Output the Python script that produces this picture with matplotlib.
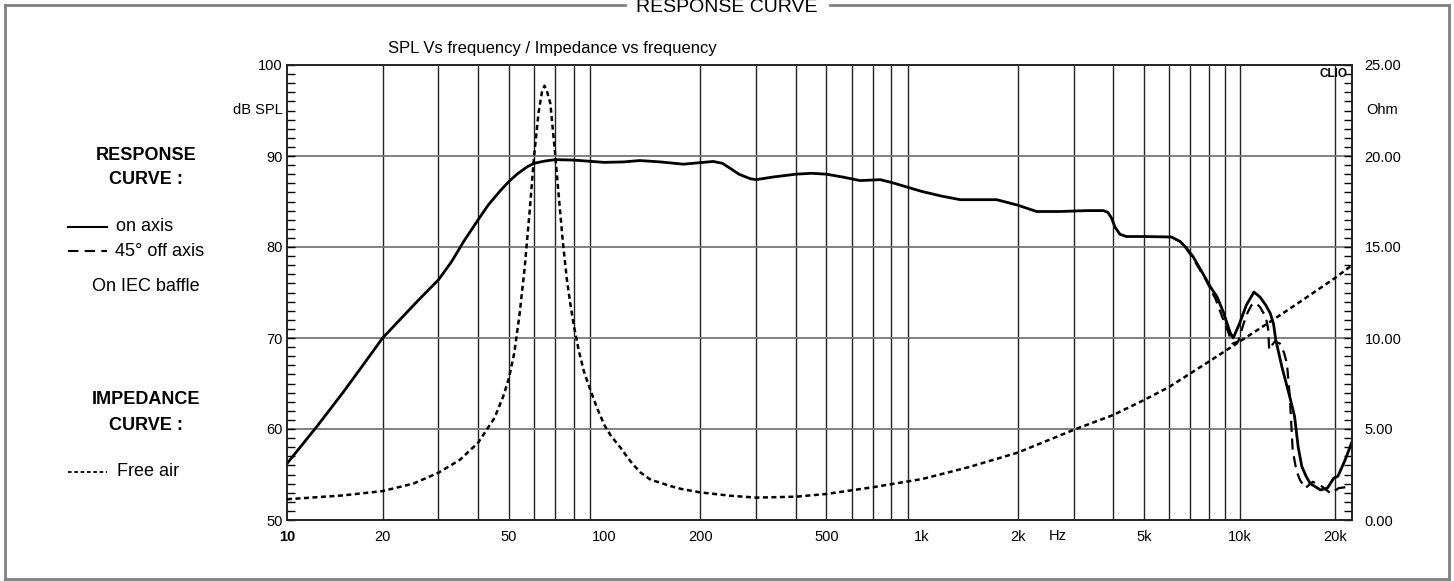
"""
SPL / impedance response chart (CLIO style)
"""
import matplotlib
matplotlib.use('Agg')
import matplotlib.pyplot as plt
from matplotlib.lines import Line2D
from matplotlib.ticker import FixedLocator, MultipleLocator, NullFormatter

plt.rcParams['font.family'] = ['Liberation Sans', 'DejaVu Sans']

# SPL on axis (Hz, dB)
spl_freq = [10, 12.5, 15, 17.5, 20, 26, 30, 33, 36, 40, 43, 47, 50, 53, 57, 60, 65, 70, 80,
            100, 115, 129, 150, 177, 200, 220, 235, 250, 265, 288, 300, 341, 400, 450, 500,
            560, 638, 738, 800, 894, 1000, 1150, 1319, 1718, 2000, 2296, 2722, 3300, 3724,
            3850, 3950, 4050, 4200, 4400, 5000, 6100, 6500, 6800, 7150, 7600, 8100, 8500,
            8900, 9340, 9550, 10000, 10500, 11100, 11600, 12100, 12500, 12800, 13000,
            13600, 14400, 14900, 15300, 15700, 16200, 16700, 18000, 18900, 19800, 20400,
            21500, 22600]
spl_on = [56.2, 60.4, 64.0, 67.2, 70.0, 74.2, 76.4, 78.4, 80.6, 83.0, 84.6, 86.2, 87.2,
          88.0, 88.8, 89.2, 89.45, 89.6, 89.55, 89.3, 89.35, 89.5, 89.35, 89.1, 89.27, 89.4,
          89.2, 88.6, 88.0, 87.5, 87.4, 87.7, 88.0, 88.1, 88.0, 87.7, 87.3, 87.4, 87.1,
          86.6, 86.1, 85.6, 85.2, 85.2, 84.6, 83.9, 83.9, 84.0, 84.0, 83.8, 83.2, 82.2,
          81.4, 81.15, 81.15, 81.1, 80.6, 79.9, 78.9, 77.3, 75.6, 74.5, 72.8, 70.6, 70.0,
          71.6, 73.6, 75.05, 74.5, 73.6, 72.7, 71.5, 69.8, 66.8, 63.5, 61.4, 58.0, 55.9,
          54.8, 54.0, 53.3, 53.5, 54.6, 54.8, 56.6, 58.6]

# SPL 45 deg off axis (same as on axis below ~6 kHz)
off_freq = [6100, 6500, 6800, 7150, 7800, 8400, 8800, 9200, 9500, 9900, 10300, 10600,
            10900, 11200, 11600, 12100, 12300, 12400, 12700, 12900, 13400, 13800, 14100,
            14400, 14700, 15100, 15500, 16100, 17000, 18000, 19400, 20500, 22600]
spl_off = [81.1, 80.6, 79.8, 78.7, 76.5, 74.3, 72.4, 70.7, 69.4, 69.6, 71.6, 72.8, 73.6,
           73.9, 73.4, 72.3, 71.0, 68.7, 69.3, 69.6, 69.4, 68.4, 67.2, 63.5, 57.7, 55.4,
           54.4, 53.5, 54.2, 53.8, 52.9, 53.5, 53.7]

# Impedance free air (Hz, Ohm)
imp_freq = [10, 15, 20, 25, 30, 35, 40, 45, 48, 50, 52, 54, 56, 58, 60, 62, 63.5, 64.7,
            66, 67.5, 70, 72, 74, 76, 78, 80, 83, 86, 90, 95, 100, 105, 112, 118, 123, 130,
            140, 150, 160, 175, 200, 250, 300, 400, 500, 700, 1000, 1400, 2000, 3000,
            4000, 5000, 6000, 8000, 10000, 12500, 15850, 20000, 22600]
impedance = [1.14, 1.35, 1.59, 2.0, 2.6, 3.3, 4.25, 5.6, 6.8, 7.8, 9.2, 11.3, 13.8, 16.8,
             20.0, 22.4, 23.5, 23.86, 23.5, 22.9, 20.0, 17.5, 15.2, 13.3, 11.9, 10.7,
             9.3, 8.2, 7.2, 6.1, 5.2, 4.6, 4.0, 3.45, 3.05, 2.6, 2.2, 2.05, 1.88, 1.7, 1.52,
             1.33, 1.23, 1.28, 1.43, 1.80, 2.25, 2.9, 3.7, 4.95, 5.77, 6.59, 7.31, 8.7,
             9.8, 10.9, 12.1, 13.3, 14.0]

x_labels = ['10', '20', '50', '100', '200', '500', '1k', '2k', '5k', '10k', '20k']
x_label_freqs = [10, 20, 50, 100, 200, 500, 1000, 2000, 5000, 10000, 20000]
grid_freqs = [m * d for d in (10, 100, 1000) for m in range(2, 10)] + [10000, 20000]

W, H = 1454, 581


def fx(px):
    return px / W


def fy(py):
    return 1 - py / H


fig = plt.figure(figsize=(W / 100, H / 100), dpi=100)
ax = fig.add_axes([fx(287), fy(520), (1352 - 287) / W, (520 - 65) / H])

# grid lines
for f in grid_freqs:
    ax.axvline(f, color='#222222', lw=1.0, zorder=1)
for v in (60, 70, 80, 90):
    ax.axhline(v, color='#777777', lw=1.3, zorder=1)

ax.plot(off_freq, spl_off, color='black', lw=1.6, ls=(0, (5, 3)), zorder=3)
ax.plot(spl_freq, spl_on, color='black', lw=2.0, zorder=4)

ax.set_xscale('log')
ax.set_xlim(10, 22600)
ax.set_ylim(50, 100)
ax.xaxis.set_major_locator(FixedLocator(x_label_freqs))
ax.xaxis.set_minor_locator(FixedLocator([]))
ax.xaxis.set_minor_formatter(NullFormatter())
ax.set_xticklabels(x_labels)
ax.get_xticklabels()[0].set_fontweight('bold')
ax.tick_params(axis='x', length=0, pad=7, labelsize=10.5)
ax.yaxis.set_major_locator(MultipleLocator(10))
ax.yaxis.set_minor_locator(MultipleLocator(1))
ax.tick_params(axis='y', which='both', direction='in', length=6, width=1.0,
               pad=3, labelsize=10.5, right=False)
for sp in ax.spines.values():
    sp.set_linewidth(1.2)
    sp.set_color('#222222')

ax2 = ax.twinx()
ax2.plot(imp_freq, impedance, color='black', lw=1.8, ls=(0, (2, 1.4)), zorder=5)
ax2.set_ylim(0, 25)
ax2.yaxis.set_major_locator(MultipleLocator(5))
ax2.yaxis.set_minor_locator(MultipleLocator(0.5))
ax2.set_yticklabels([f'{v:.2f}' for v in ax2.get_yticks()])
ax2.tick_params(axis='y', which='both', direction='in', length=6, width=1.0,
                pad=9, labelsize=10.5)
for sp in ax2.spines.values():
    sp.set_linewidth(1.2)
    sp.set_color('#222222')

# axis annotations
fig.text(fx(283), fy(110), 'dB SPL', ha='right', va='center', fontsize=10.5)
fig.text(fx(1366), fy(110), 'Ohm', ha='left', va='center', fontsize=10.5)
fig.text(fx(1058), fy(536), 'Hz', ha='center', va='center', fontsize=10.5)
fig.text(fx(1347), fy(74), 'CLIO', ha='right', va='center', fontsize=8.5, fontweight='heavy')
fig.text(fx(552), fy(48), 'SPL Vs frequency / Impedance vs frequency',
         ha='center', va='center', fontsize=12)

# left legend block
fig.text(fx(146), fy(155), 'RESPONSE', ha='center', va='center', fontsize=13, fontweight='bold')
fig.text(fx(146), fy(180), 'CURVE :', ha='center', va='center', fontsize=13, fontweight='bold')
fig.add_artist(Line2D([fx(68), fx(107)], [fy(227), fy(227)], color='black', lw=1.5))
fig.text(fx(116), fy(227), 'on axis', ha='left', va='center', fontsize=13)
fig.add_artist(Line2D([fx(68), fx(107)], [fy(251), fy(251)], color='black', lw=1.5,
                      ls=(0, (5, 3))))
fig.text(fx(115), fy(251), '45° off axis', ha='left', va='center', fontsize=13)
fig.text(fx(146), fy(286), 'On IEC baffle', ha='center', va='center', fontsize=13)
fig.text(fx(146), fy(400), 'IMPEDANCE', ha='center', va='center', fontsize=13, fontweight='bold')
fig.text(fx(146), fy(425), 'CURVE :', ha='center', va='center', fontsize=13, fontweight='bold')
fig.add_artist(Line2D([fx(68), fx(107)], [fy(472), fy(472)], color='black', lw=1.3,
                      ls=(0, (2, 1.5))))
fig.text(fx(117), fy(472), 'Free air', ha='left', va='center', fontsize=13)

# outer frame with title in the top edge
frame = dict(color='#808080', lw=2)
fig.add_artist(Line2D([fx(5), fx(625)], [fy(5), fy(5)], **frame))
fig.add_artist(Line2D([fx(830), fx(1449)], [fy(5), fy(5)], **frame))
fig.add_artist(Line2D([fx(5), fx(5)], [fy(5), fy(579)], **frame))
fig.add_artist(Line2D([fx(1449), fx(1449)], [fy(5), fy(579)], **frame))
fig.add_artist(Line2D([fx(5), fx(1449)], [fy(579), fy(579)], **frame))
fig.text(fx(727), fy(12), 'RESPONSE CURVE', ha='center', va='baseline', fontsize=14)

fig.savefig('out.png', dpi=100, facecolor='white')
